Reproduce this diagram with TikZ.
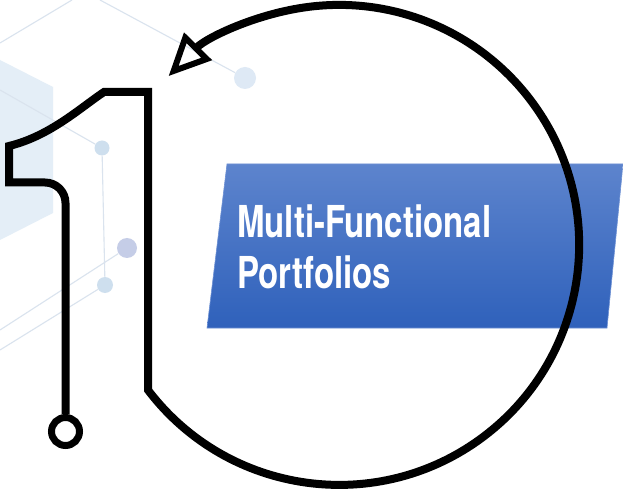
\documentclass[tikz,border=0pt]{standalone}
\usepackage{fontspec}
\newfontfamily\ttlfont[FakeStretch=0.75]{TeX Gyre Heros}
\usetikzlibrary{arrows.meta, positioning}
\definecolor{netln}{RGB}{218,227,238}
\definecolor{hexbg}{RGB}{228,238,247}
\definecolor{dotA}{RGB}{222,233,245}
\definecolor{dotB}{RGB}{206,223,238}
\definecolor{dotC}{RGB}{197,205,231}
\definecolor{boxtop}{RGB}{93,132,205}
\definecolor{boxbot}{RGB}{47,97,187}
\definecolor{boxedge}{RGB}{110,145,212}
\tikzset{
  net/.style      = {draw=netln, line width=1.1pt},
  hub/.style      = {circle, inner sep=0pt, draw=none},
  numline/.style  = {draw=black, line width=8pt, line join=miter},
  tailring/.style = {circle, draw=black, line width=7pt, minimum size=28pt,
                     inner sep=0pt, fill=white},
  cycarrow/.style = {-{Triangle[open, length=42pt, width=38pt, line width=6pt]}},
  banner/.style   = {top color=boxtop, bottom color=boxbot, draw=boxedge,
                     line width=0.6pt},
  ttl/.style      = {text=white, align=left, inner sep=0pt,
                     font=\ttlfont\bfseries\fontsize{44}{51}\selectfont},
}

\begin{document}
\begin{tikzpicture}[x=1pt, y=1pt]
\useasboundingbox (0,0) rectangle (623,493);
\fill[white] (0,0) rectangle (623,493);

% backdrop network
\fill[hexbg] (0,433) -- (53,406) -- (53,280) -- (0,253) -- cycle;
\coordinate (e1) at (0,450);
\coordinate (e2) at (72,493);
\coordinate (e3) at (100,493);
\coordinate (e4) at (0,403);
\coordinate (e5) at (0,163);
\coordinate (e6) at (0,143);
\node[hub, fill=dotA, minimum size=22pt] (d1) at (245,415) {};
\node[hub, fill=dotB, minimum size=15pt] (d2) at (102,345) {};
\node[hub, fill=dotC, minimum size=20pt] (d3) at (127,245) {};
\node[hub, fill=dotB, minimum size=16pt] (d4) at (105,208) {};
\draw[net] (e1) -- (e2);
\draw[net] (e3) -- (d1);
\draw[net] (e4) -- (d2);
\draw[net] (d2) -- (d4);
\draw[net] (d3) -- (e5);
\draw[net] (d4) -- (e6);

% banner
\path[banner] (207,165) -- (227,329) -- (623,329) -- (607,165) -- cycle;
\node[ttl, anchor=base west] (title) at (237,205) {Multi-Functional\\Portfolios};

% the one and its loop
\node[tailring] (foot) at (65.5,61.5) {};
\draw[numline, cycarrow] (foot.north) -- (65.5,290) to[out=90, in=0] (45,310.5)
  -- (9,310.5) -- (9,347) .. controls (50,357) and (80,385) .. (104,401)
  -- (148,401) -- (148,103) arc[start angle=-142.8, end angle=135.3, radius=240];
\end{tikzpicture}
\end{document}
